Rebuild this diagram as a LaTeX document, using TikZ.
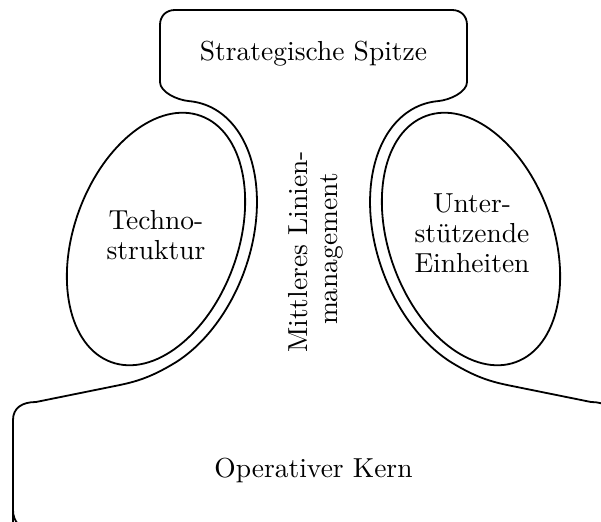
\documentclass[tikz,border=0pt]{standalone}
\usepackage{fontspec}
\setmainfont{lmroman10-regular.otf}
\begin{document}
\begin{tikzpicture}[x=1pt,y=-1pt,
  outline/.style={line width=1.8pt, line join=round},
  lbl/.style={font=\fontsize{27.5}{30}\selectfont, inner sep=0pt, anchor=base},
  declare function={ex(\t)=0.9397*94*cos(\t)+0.342*143*sin(\t);
                    ey(\t)=-0.342*94*cos(\t)+0.9397*143*sin(\t);}
]
\useasboundingbox (0,0) rectangle (601,521);
\clip (0,0) rectangle (601,521);
% outer outline of the organisation
\draw[outline] (13,540) -- (13,420) .. controls (13,408) and (22,402) .. (36,402)
 -- (115,386) .. controls (135,382) and (150,378) .. (175.3,362.6)
 -- plot[domain=-50:100, samples=90, variable=\t] ({156+ex(\t)},{239-ey(\t)})
 .. controls (177,100) and (160,92) .. (160,82)
 -- (160,25) .. controls (160,16) and (166,10) .. (175,10)
 -- (452,10) .. controls (461,10) and (467,16) .. (467,25)
 -- (467,82) .. controls (467,92) and (450,100) .. (438.1,101.1)
 -- plot[domain=100:-50, samples=90, variable=\t] ({471-ex(\t)},{239-ey(\t)})
 .. controls (477,378) and (492,382) .. (512,386)
 -- (591,402) .. controls (605,402) and (614,408) .. (614,420)
 -- (614,510) .. controls (614,522) and (606,530) .. (594,530)
 -- (33,530) .. controls (21,530) and (13,522) .. (13,510) -- cycle;
% ellipses
\draw[outline, rotate around={-20:(156,239)}] (156,239) ellipse [x radius=82, y radius=131];
\draw[outline, rotate around={20:(471,239)}] (471,239) ellipse [x radius=82, y radius=131];
% labels
\node[lbl] (ss) at (313.5,61) {Strategische Spitze};
\node[lbl] (t1) at (156,229) {Techno-};
\node[lbl] (t2) at (156,259) {struktur};
\node[lbl] (u1) at (472,212) {Unter-};
\node[lbl] (u2) at (472,242) {stützende};
\node[lbl] (u3) at (472,272) {Einheiten};
\node[lbl] (ok) at (313.5,477) {Operativer Kern};
\node[lbl, rotate=90] (m1) at (307,252) {Mittleres Linien-};
\node[lbl, rotate=90] (m2) at (337,249) {management};
\end{tikzpicture}
\end{document}
